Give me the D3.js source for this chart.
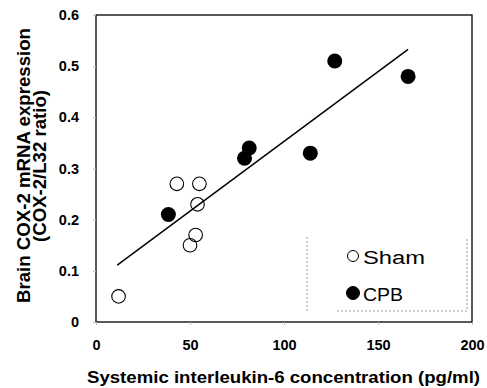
<!DOCTYPE html>
<html>
<head>
<meta charset="utf-8">
<script src="https://cdn.jsdelivr.net/npm/d3@7"></script>
<style>
  body { margin: 0; background: #fff; }
  text { font-family: "Liberation Sans", Arial, sans-serif; }
</style>
</head>
<body>
<div id="container"></div>
<script>
// data
const shamX = [12, 43, 55, 54, 53, 50];
const shamY = [0.05, 0.27, 0.27, 0.23, 0.17, 0.15];
const cpbX = [38.5, 79, 81.5, 114, 127, 166];
const cpbY = [0.21, 0.32, 0.34, 0.33, 0.51, 0.48];
const fitX = [11.3, 166];
const fitY = [0.111, 0.533];
const xTicks = [0, 50, 100, 150, 200];
const yTicks = [0, 0.1, 0.2, 0.3, 0.4, 0.5, 0.6];
const groups = ["Sham", "CPB"];

const margin = { top: 15, right: 15, bottom: 66, left: 96 },
    width = 487 - margin.left - margin.right,
    height = 388 - margin.top - margin.bottom;

const svg = d3.select("#container")
    .append("svg")
    .attr("width", 487)
    .attr("height", 388);

const g = svg.append("g")
    .attr("transform", `translate(${margin.left}, ${margin.top})`);

const x = d3.scaleLinear().domain([0, 200]).range([0, width]);
const y = d3.scaleLinear().domain([0, 0.6]).range([height, 0]);

// frame
g.append("rect")
    .attr("width", width)
    .attr("height", height)
    .attr("fill", "none")
    .attr("stroke", "#000")
    .attr("stroke-width", 1.3);

// X axis
const xAxis = g.append("g")
    .attr("transform", `translate(0, ${height})`)
    .call(d3.axisBottom(x).tickValues(xTicks).tickSize(3).tickPadding(15).tickFormat(d3.format("d")));
xAxis.select(".domain").remove();
xAxis.selectAll("line").attr("stroke", "#bbb");
xAxis.selectAll("text")
    .attr("fill", "#000")
    .style("font-size", "14.5px")
    .style("font-weight", "bold");

// Y axis
const yAxis = g.append("g")
    .call(d3.axisLeft(y).tickValues(yTicks).tickSize(3).tickPadding(14)
        .tickFormat(d => d === 0 ? "0" : d3.format(".1f")(d)));
yAxis.select(".domain").remove();
yAxis.selectAll("line").attr("stroke", "#bbb");
yAxis.selectAll("text")
    .attr("fill", "#000")
    .style("font-size", "14.5px")
    .style("font-weight", "bold");

// regression line
g.append("line")
    .attr("x1", x(fitX[0])).attr("y1", y(fitY[0]))
    .attr("x2", x(fitX[1])).attr("y2", y(fitY[1]))
    .attr("stroke", "#000")
    .attr("stroke-width", 1.5);

// sham points (open)
g.selectAll(".sham")
    .data(shamX.map((v, i) => ({ x: v, y: shamY[i] })))
    .enter()
    .append("circle")
    .attr("class", "sham")
    .attr("cx", d => x(d.x))
    .attr("cy", d => y(d.y))
    .attr("r", 6.8)
    .attr("fill", "none")
    .attr("stroke", "#000")
    .attr("stroke-width", 1.1);

// CPB points (filled)
g.selectAll(".cpb")
    .data(cpbX.map((v, i) => ({ x: v, y: cpbY[i] })))
    .enter()
    .append("circle")
    .attr("class", "cpb")
    .attr("cx", d => x(d.x))
    .attr("cy", d => y(d.y))
    .attr("r", 7.5)
    .attr("fill", "#000");

// legend, faint dotted box
const leg = svg.append("g");
leg.append("path")
    .attr("d", "M307,237 V311 M337,311 H467 V237")
    .attr("fill", "none")
    .attr("stroke", "#999")
    .attr("stroke-width", 1)
    .attr("stroke-dasharray", "2,2");

const legWidths = [62, 40];
groups.forEach(function (name, i) {
    const cy = 256 + i * 37;
    leg.append("circle")
        .attr("cx", 353)
        .attr("cy", cy)
        .attr("r", i === 0 ? 5.5 : 6.5)
        .attr("fill", i === 0 ? "#fff" : "#000")
        .attr("stroke", "#000")
        .attr("stroke-width", 1);
    leg.append("text")
        .attr("x", 363)
        .attr("y", cy + 7.5)
        .attr("textLength", legWidths[i])
        .attr("lengthAdjust", "spacingAndGlyphs")
        .style("font-size", "18px")
        .text(name);
});

// axis titles
svg.append("text")
    .attr("x", 283.5)
    .attr("y", 383)
    .attr("text-anchor", "middle")
    .attr("textLength", 393)
    .attr("lengthAdjust", "spacingAndGlyphs")
    .style("font-size", "16.5px")
    .style("font-weight", "bold")
    .text("Systemic interleukin-6 concentration (pg/ml)");

svg.append("text")
    .attr("transform", "translate(30, 165.5) rotate(-90)")
    .attr("text-anchor", "middle")
    .attr("textLength", 275)
    .attr("lengthAdjust", "spacingAndGlyphs")
    .style("font-size", "17.5px")
    .style("font-weight", "bold")
    .text("Brain COX-2 mRNA expression");

svg.append("text")
    .attr("transform", "translate(46, 166) rotate(-90)")
    .attr("text-anchor", "middle")
    .attr("textLength", 152)
    .attr("lengthAdjust", "spacingAndGlyphs")
    .style("font-size", "17.5px")
    .style("font-weight", "bold")
    .text("(COX-2/L32 ratio)");
</script>
</body>
</html>
